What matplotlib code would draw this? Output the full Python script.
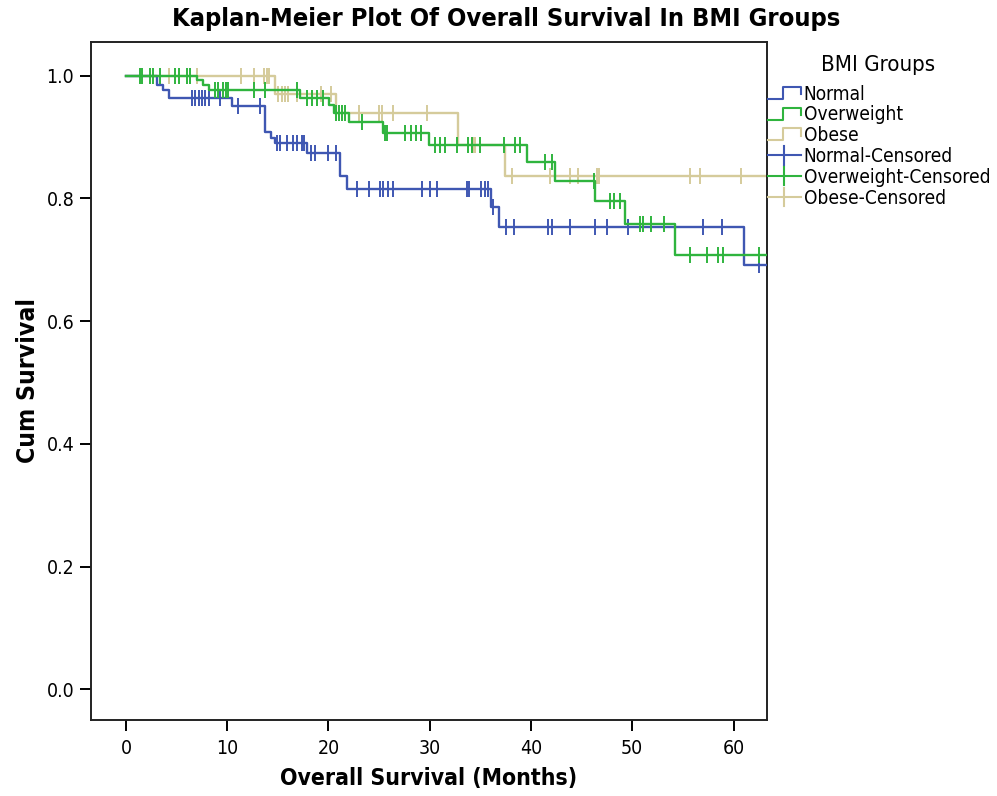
import numpy as np
import matplotlib
matplotlib.use("Agg")
import matplotlib.pyplot as plt
from matplotlib.lines import Line2D
from matplotlib.legend_handler import HandlerBase
from matplotlib import font_manager
from matplotlib.font_manager import FontProperties

# ---------------- data ----------------
normal_event_t = [3.1, 3.7, 4.3, 10.5, 13.7, 14.3, 14.7, 17.9, 21.1, 21.8, 36.0, 36.8, 61.0]
normal_event_s = [0.985, 0.977, 0.963, 0.950, 0.908, 0.899, 0.890, 0.874, 0.836, 0.816, 0.786, 0.754, 0.692]
normal_cens = [6.5, 6.8, 7.2, 7.5, 7.8, 8.2, 9.3, 11.1, 13.2, 14.9, 15.2, 15.9, 16.5, 16.9,
               17.4, 17.6, 18.3, 18.7, 20.0, 20.7, 22.8, 24.0, 25.1, 25.4, 25.9, 26.4, 29.2,
               30.0, 30.7, 33.7, 33.9, 35.1, 35.5, 35.8, 36.2, 37.5, 38.3, 41.7, 42.1, 43.8,
               46.3, 47.5, 49.6, 57.0, 58.9, 62.5]
normal_end = 63.4

ow_event_t = [7.0, 7.6, 8.2, 17.2, 20.1, 20.5, 22.0, 25.4, 29.9, 39.6, 42.4, 46.3, 49.3, 54.2]
ow_event_s = [0.993, 0.985, 0.977, 0.963, 0.953, 0.939, 0.924, 0.907, 0.887, 0.860, 0.829,
              0.796, 0.759, 0.708]
ow_cens = [1.4, 1.6, 2.4, 2.7, 3.4, 4.8, 5.2, 6.0, 6.3, 8.8, 9.1, 9.6, 9.9, 10.1, 12.6, 13.7,
           16.9, 17.9, 18.4, 18.9, 19.5, 20.7, 21.0, 21.3, 21.6, 23.3, 25.6, 25.8, 27.6, 28.1,
           28.6, 29.1, 30.5, 31.0, 31.5, 32.7, 33.8, 34.2, 35.0, 37.3, 38.4, 38.9, 41.4, 42.1,
           46.2, 47.8, 48.2, 48.8, 50.8, 51.1, 51.8, 53.1, 55.7, 57.4, 58.5, 59.0, 62.5]
ow_end = 63.4

ob_event_t = [14.7, 20.7, 32.8, 37.4]
ob_event_s = [0.971, 0.939, 0.887, 0.836]
ob_cens = [4.3, 7.0, 11.4, 12.6, 13.6, 13.9, 14.1, 15.0, 15.4, 15.7, 16.0, 16.9, 19.3, 20.2,
           23.0, 25.0, 25.3, 26.4, 29.7, 34.3, 34.5, 38.1, 41.9, 43.8, 44.6, 46.5, 46.7,
           55.7, 56.7, 60.7]
ob_end = 63.4

group_names = ["Normal", "Overweight", "Obese"]
colors = ["#3f57b2", "#2fb43e", "#d5cb9b"]

x_ticks = [0, 10, 20, 30, 40, 50, 60]
y_ticks = [0.0, 0.2, 0.4, 0.6, 0.8, 1.0]

W, H = 997, 796


# ---------------- fonts ----------------
def pick_font(weight):
    cands = []
    for f in font_manager.fontManager.ttflist:
        st = str(f.stretch).lower()
        fn = f.fname.lower()
        is_cond = ("condensed" in st or "narrow" in f.name.lower() or "condensed" in f.name.lower()
                   or "condensed" in fn or "narrow" in fn)
        if not is_cond:
            continue
        if "italic" in f.style or "oblique" in f.style or "oblique" in fn or "italic" in fn:
            continue
        w = f.weight if isinstance(f.weight, int) else (700 if "bold" in str(f.weight) else 400)
        if weight == "bold" and w < 600:
            continue
        if weight == "normal" and w >= 600:
            continue
        if "light" in fn or "extra" in fn:
            continue
        cands.append(f)
    if not cands:
        return None
    pref = ["Liberation Sans Narrow", "DejaVu Sans", "Roboto", "Open Sans", "Noto Sans"]
    cands.sort(key=lambda f: pref.index(f.name) if f.name in pref else 99)
    return cands[0].fname


reg_file = pick_font("normal")
bold_file = pick_font("bold")
fp_reg = FontProperties(fname=reg_file) if reg_file else FontProperties(family="DejaVu Sans")
fp_bold = FontProperties(fname=bold_file) if bold_file else FontProperties(family="DejaVu Sans",
                                                                            weight="bold")

# ---------------- figure ----------------
fig = plt.figure(figsize=(W / 100, H / 100), dpi=100)
ax_l, ax_r, ax_t, ax_b = 91, 767, 42, 720
ax = fig.add_axes([ax_l / W, 1 - ax_b / H, (ax_r - ax_l) / W, (ax_b - ax_t) / H])


def km_curve(ev_t, ev_s, end):
    t = [0.0] + list(ev_t) + [end]
    s = [1.0] + list(ev_s) + [ev_s[-1]]
    return np.array(t), np.array(s)


def surv_at(ev_t, ev_s, times):
    ev_t = np.array(ev_t)
    ev_s = np.array(ev_s)
    out = []
    for tt in times:
        idx = np.searchsorted(ev_t, tt, side="right") - 1
        out.append(1.0 if idx < 0 else ev_s[idx])
    return np.array(out)


groups = [
    (normal_event_t, normal_event_s, normal_cens, normal_end),
    (ow_event_t, ow_event_s, ow_cens, ow_end),
    (ob_event_t, ob_event_s, ob_cens, ob_end),
]

zorders = [3, 4, 2]
for (ev_t, ev_s, cens, end), col, z in zip(groups, colors, zorders):
    t, s = km_curve(ev_t, ev_s, end)
    ax.step(t, s, where="post", color=col, lw=1.7, zorder=z)
    ax.plot(cens, surv_at(ev_t, ev_s, cens), linestyle="none", marker="|",
            markersize=11, markeredgewidth=1.4, color=col, zorder=z)

ax.set_xlim(-3.45, 63.3)
ax.set_ylim(-0.05, 1.055)
ax.set_xticks(x_ticks)
ax.set_xticklabels([str(v) for v in x_ticks])
ax.set_yticks(y_ticks)
ax.set_yticklabels([f"{v:.1f}" for v in y_ticks])
ax.tick_params(axis="both", direction="out", length=8, width=1.4, colors="black")
ax.tick_params(axis="x", pad=6)
ax.tick_params(axis="y", pad=4)

tick_fp = fp_reg.copy()
tick_fp.set_size(14)
for lab in ax.get_xticklabels() + ax.get_yticklabels():
    lab.set_fontproperties(tick_fp)

for sp in ax.spines.values():
    sp.set_linewidth(1.4)
    sp.set_color("#222222")

title = fig.text(0.508, 1 - 19 / H, "Kaplan-Meier Plot Of Overall Survival In BMI Groups",
                 ha="center", va="center", fontproperties=fp_bold.copy())
xlab = fig.text((ax_l + ax_r) / 2 / W, 1 - 778 / H, "Overall Survival (Months)",
                ha="center", va="center", fontproperties=fp_bold.copy())
ylab = fig.text(28 / W, 1 - (ax_t + ax_b) / 2 / H, "Cum Survival", rotation=90,
                ha="center", va="center", fontproperties=fp_bold.copy())


# ---------------- legend ----------------
class StepHandler(HandlerBase):
    def create_artists(self, legend, orig_handle, xdescent, ydescent, width, height,
                       fontsize, trans):
        x0 = -xdescent
        y0 = -ydescent
        xs = [x0, x0 + 0.45 * width, x0 + 0.45 * width, x0 + width, x0 + width]
        ys = [y0 + 0.05 * height, y0 + 0.05 * height, y0 + 0.95 * height,
              y0 + 0.95 * height, y0 + 0.4 * height]
        ln = Line2D(xs, ys, color=orig_handle.get_color(), lw=1.5)
        ln.set_transform(trans)
        return [ln]


class CensHandler(HandlerBase):
    def create_artists(self, legend, orig_handle, xdescent, ydescent, width, height,
                       fontsize, trans):
        x0 = -xdescent
        y0 = -ydescent
        ym = y0 + 0.5 * height
        h = Line2D([x0, x0 + width], [ym, ym], color=orig_handle.get_color(), lw=1.5)
        v = Line2D([x0 + 0.5 * width, x0 + 0.5 * width], [y0 - 0.2 * height, y0 + 1.2 * height],
                   color=orig_handle.get_color(), lw=1.5)
        h.set_transform(trans)
        v.set_transform(trans)
        return [h, v]


class StepKey(Line2D):
    pass


class CensKey(Line2D):
    pass


handles = []
labels = []
for name, col in zip(group_names, colors):
    handles.append(StepKey([], [], color=col))
    labels.append(name)
for name, col in zip(group_names, colors):
    handles.append(CensKey([], [], color=col))
    labels.append(name + "-Censored")

renderer = fig.canvas.get_renderer()


def fit_size(txt, target, horizontal=True, start=20.0):
    fp = txt.get_fontproperties()
    fp.set_size(start)
    txt.set_fontproperties(fp)
    bb = txt.get_window_extent(renderer)
    cur = bb.width if horizontal else bb.height
    new = start * target / cur
    fp.set_size(new)
    txt.set_fontproperties(fp)
    return new


fit_size(title, 671)
fit_size(xlab, 297)
fit_size(ylab, 165, horizontal=False)

leg_title = fig.text(878 / W, 1 - 65 / H, "BMI Groups", ha="center", va="center",
                     fontproperties=fp_reg.copy())
fit_size(leg_title, 114)

probe = fig.text(0, 0, "Overweight-Censored", fontproperties=fp_reg.copy())
leg_fs = fit_size(probe, 185)
probe.remove()

leg_fp = fp_reg.copy()
leg_fp.set_size(leg_fs)
fs_px = leg_fs * 100 / 72.0

first_y, last_y = 94.0, 198.0
spacing = max(0.05, 21.0 / fs_px - 1.15)
anchor_y = 1 - 82 / H
for _ in range(3):
    leg = fig.legend(handles, labels, loc="upper left", bbox_to_anchor=(0.770, anchor_y),
                     frameon=False, prop=leg_fp,
                     handler_map={StepKey: StepHandler(), CensKey: CensHandler()},
                     handlelength=33 / fs_px, handleheight=0.7, handletextpad=0.15,
                     labelspacing=spacing, borderpad=0.0, borderaxespad=0.0)
    fig.canvas.draw()
    texts = leg.get_texts()
    b0 = texts[0].get_window_extent(renderer)
    b5 = texts[-1].get_window_extent(renderer)
    y0 = H - (b0.y0 + b0.y1) / 2
    y5 = H - (b5.y0 + b5.y1) / 2
    cur_gap = (y5 - y0) / 5.0
    want_gap = (last_y - first_y) / 5.0
    spacing = max(0.0, spacing + (want_gap - cur_gap) / fs_px)
    anchor_y -= (first_y - y0) / H
    leg.remove()

leg = fig.legend(handles, labels, loc="upper left", bbox_to_anchor=(0.770, anchor_y),
                 frameon=False, prop=leg_fp,
                 handler_map={StepKey: StepHandler(), CensKey: CensHandler()},
                 handlelength=33 / fs_px, handleheight=0.7, handletextpad=0.15,
                 labelspacing=spacing, borderpad=0.0, borderaxespad=0.0)

fig.savefig("out.png", dpi=100)
